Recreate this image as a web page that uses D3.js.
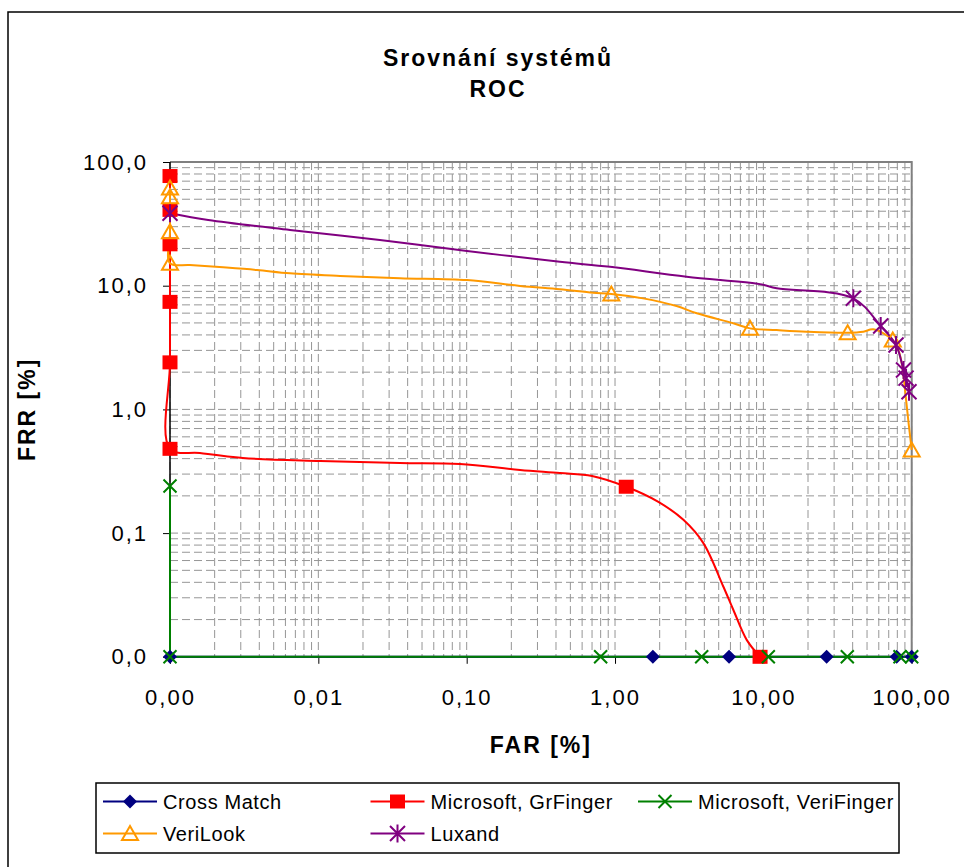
<!DOCTYPE html>
<html>
<head>
<meta charset="utf-8">
<script src="https://cdn.jsdelivr.net/npm/d3@7"></script>
<style>
  body { margin: 0; background: #fff; }
  text { font-family: Arial, "Liberation Sans", sans-serif; fill: #000; }
  .tick text { font-size: 22px; letter-spacing: 2px; }
  .titulo { font-size: 23px; font-weight: bold; letter-spacing: 2px; }
  .leyenda text { font-size: 20px; letter-spacing: 0.6px; }
</style>
</head>
<body>
<div id="graf"></div>
<script>
// Datos (FAR a FRR v %, nulové hodnoty leží na minimu osy)
const xTicks = [0.001, 0.01, 0.1, 1, 10, 100]
const xLabels = ['0,00', '0,01', '0,10', '1,00', '10,00', '100,00']
const yTicks = [0.01, 0.1, 1, 10, 100]
const yLabels = ['0,0', '0,1', '1,0', '10,0', '100,0']

const crossMatchFAR = [0, 1.8, 5.87, 26.7, 79.2, 100]
const crossMatchFRR = [0, 0, 0, 0, 0, 0]
const crossMatchMarks = [0, 1, 2, 3, 4, 5]

const grFingerFAR = [0, 0, 0, 0, 0, 0, 0.00159, 0.0031, 0.0103, 0.0355, 0.09, 0.229, 0.425, 0.7, 1.19, 1.96, 2.89, 3.94, 5.37, 6.27, 7.72, 9.5]
const grFingerFRR = [77, 41, 21.6, 7.4, 2.4, 0.48, 0.444, 0.405, 0.383, 0.369, 0.362, 0.324, 0.306, 0.29, 0.237, 0.179, 0.128, 0.083, 0.037, 0.024, 0.0137, 0]
const grFingerMarks = [0, 1, 2, 3, 4, 5, 14, 21]

const veriFingerFAR = [0, 0, 0.8, 3.84, 10.8, 36.8, 83.4, 100]
const veriFingerFRR = [0.24, 0, 0, 0, 0, 0, 0, 0]
const veriFingerMarks = [0, 1, 2, 3, 4, 5, 6, 7]

const veriLookFAR = [0, 0, 0, 0, 0.00136, 0.00228, 0.00386, 0.00644, 0.014, 0.0355, 0.1005, 0.229, 0.425, 0.711, 0.944,
  1.545, 2.6, 3.56, 6.27, 8.13, 12.3, 19.6, 37, 47.2, 55.1, 74.5, 81.3, 85.7, 90.2, 94.8, 100]
const veriLookFRR = [61.6, 52.4, 27.3, 15.2, 14.7, 14.08, 13.4, 12.6, 12.0, 11.5, 11.1, 9.95, 9.35, 8.78, 8.57,
  7.9, 6.85, 5.98, 4.97, 4.52, 4.38, 4.25, 4.17, 4.25, 4.44, 3.64, 3.02, 2.36, 1.43, 0.82, 0.47]
const veriLookMarks = [0, 1, 2, 3, 14, 19, 22, 25, 30]

const luxandFAR = [0, 0.00181, 0.00644, 0.026, 0.1005, 0.425, 0.925, 3.04, 9.49, 12.3, 40.4, 61.8, 78.4, 88.1, 91.6, 95.9]
const luxandFRR = [38.5, 34, 28.2, 23.4, 19.1, 15.6, 14.2, 11.8, 10.3, 9.53, 7.91, 4.72, 3.32, 2.08, 1.79, 1.39]
const luxandMarks = [0, 10, 11, 12, 13, 14, 15]

const serie = (name, far, frr, marks, color, shape, smooth) =>
  ({ name, color, shape, smooth, points: far.map((v, i) => [v, frr[i]]), marks })

const series = [
  serie('Cross Match', crossMatchFAR, crossMatchFRR, crossMatchMarks, '#000080', 'diamond', false),
  serie('Microsoft, GrFinger', grFingerFAR, grFingerFRR, grFingerMarks, '#ff0000', 'square', true),
  serie('Microsoft, VeriFinger', veriFingerFAR, veriFingerFRR, veriFingerMarks, '#008000', 'x', false),
  serie('VeriLook', veriLookFAR, veriLookFRR, veriLookMarks, '#ff9900', 'triangle', true),
  serie('Luxand', luxandFAR, luxandFRR, luxandMarks, '#800080', 'star', true)
]

// Dimenze
const anchoTotal = 964
const altoTotal = 867
const margins = { top: 162, right: 52.3, bottom: 210.2, left: 170 }
const ancho = anchoTotal - margins.left - margins.right
const alto = altoTotal - margins.top - margins.bottom

const svg = d3.select('#graf').append('svg')
  .attr('width', anchoTotal)
  .attr('height', altoTotal)

svg.append('rect').attr('width', anchoTotal).attr('height', altoTotal).attr('fill', 'white')
svg.append('path')
  .attr('d', `M8,${altoTotal} V12 H${anchoTotal}`)
  .attr('fill', 'none').attr('stroke', 'black').attr('stroke-width', 1.5)

// Škály
const x = d3.scaleLog().domain([xTicks[0], xTicks[xTicks.length - 1]]).range([0, ancho])
const y = d3.scaleLog().domain([yTicks[0], yTicks[yTicks.length - 1]]).range([alto, 0])
const px = (v) => x(Math.max(v, xTicks[0]))
const py = (v) => y(Math.max(v, yTicks[0]))

const g = svg.append('g').attr('transform', `translate(${margins.left}, ${margins.top})`)

// Mřížka
const grid = g.append('g')
  .attr('stroke', '#969696').attr('stroke-width', 1).attr('stroke-dasharray', '8,4')
grid.selectAll('.gx').data(x.ticks()).enter().append('line')
  .attr('x1', x).attr('x2', x).attr('y1', 0).attr('y2', alto)
grid.selectAll('.gy').data(y.ticks()).enter().append('line')
  .attr('y1', y).attr('y2', y).attr('x1', 0).attr('x2', ancho)

g.append('path')
  .attr('d', `M0,0 H${ancho} V${alto}`)
  .attr('fill', 'none').attr('stroke', '#808080').attr('stroke-width', 2)

// Osy
const xAxis = d3.axisBottom(x).tickValues(xTicks).tickFormat((d, i) => xLabels[i]).tickSize(7).tickPadding(26)
const yAxis = d3.axisLeft(y).tickValues(yTicks).tickFormat((d, i) => yLabels[i]).tickSize(7).tickPadding(15)

const xAxisGroup = g.append('g').attr('transform', `translate(0, ${alto})`).call(xAxis)
const yAxisGroup = g.append('g').call(yAxis)
;[xAxisGroup, yAxisGroup].forEach((ax) => {
  ax.attr('font-family', null).attr('font-size', null)
  ax.select('.domain').attr('stroke', 'black').attr('stroke-width', 1.5)
  ax.selectAll('.tick line').attr('stroke', 'black')
})
yAxisGroup.select('.domain').attr('d', `M0,${alto}V0`)
xAxisGroup.select('.domain').attr('d', `M0,0H${ancho}`)

// Značky
const markerPath = {
  diamond: 'M0,-7L7,0L0,7L-7,0Z',
  square: 'M-7.5,-7H7.5V7H-7.5Z',
  triangle: 'M0,-7.5L8,6.5H-8Z',
  x: 'M-6.5,-6.5L6.5,6.5M-6.5,6.5L6.5,-6.5',
  star: 'M-7.5,-7.5L7.5,7.5M-7.5,7.5L7.5,-7.5M0,-9V9'
}
const filled = (s) => s === 'diamond' || s === 'square'
const styleMarker = (sel, d) => sel
  .attr('d', markerPath[d.shape])
  .attr('fill', filled(d.shape) ? d.color : 'none')
  .attr('stroke', filled(d.shape) ? 'none' : d.color)
  .attr('stroke-width', 2)

// Čáry
const smoothLine = d3.line()
  .x((d) => px(d[0]))
  .y((d) => py(d[1]))
  .curve(d3.curveCatmullRom.alpha(0.5))
const straightLine = d3.line()
  .x((d) => px(d[0]))
  .y((d) => py(d[1]))

g.append('g').selectAll('path').data(series).enter().append('path')
  .attr('d', (d) => (d.smooth ? smoothLine : straightLine)(d.points))
  .attr('fill', 'none')
  .attr('stroke', (d) => d.color)
  .attr('stroke-width', 2)

const markers = g.append('g')
series.forEach((s) => {
  markers.append('g').selectAll('path').data(s.marks.map((i) => s.points[i])).enter().append('path')
    .attr('transform', (d) => `translate(${px(d[0])}, ${py(d[1])})`)
    .call((sel) => styleMarker(sel, s))
})

// Titulky
svg.append('text').attr('class', 'titulo').attr('x', 498).attr('y', 65.5).attr('text-anchor', 'middle').text('Srovnání systémů')
svg.append('text').attr('class', 'titulo').attr('x', 498).attr('y', 96.5).attr('text-anchor', 'middle').text('ROC')
svg.append('text').attr('class', 'titulo').attr('x', margins.left + ancho / 2).attr('y', 753).attr('text-anchor', 'middle').text('FAR [%]')
svg.append('text').attr('class', 'titulo').attr('text-anchor', 'middle')
  .attr('transform', `translate(35, ${margins.top + alto / 2}) rotate(-90)`).text('FRR [%]')

// Legenda
const leyenda = svg.append('g').attr('class', 'leyenda')
leyenda.append('rect')
  .attr('x', 96).attr('y', 783).attr('width', 803).attr('height', 70)
  .attr('fill', 'white').attr('stroke', 'black').attr('stroke-width', 1.5)

const item = leyenda.selectAll('.item').data(series).enter().append('g')
  .attr('transform', (d, i) => `translate(${103 + (i % 3) * 267.5}, ${i < 3 ? 801.5 : 833.5})`)
item.append('line').attr('x1', 0).attr('x2', 54).attr('stroke', (d) => d.color).attr('stroke-width', 2)
item.append('path').attr('transform', 'translate(27, 0)').each(function (d) { styleMarker(d3.select(this), d) })
item.append('text').attr('x', 60).attr('dy', '0.36em').text((d) => d.name)
</script>
</body>
</html>
